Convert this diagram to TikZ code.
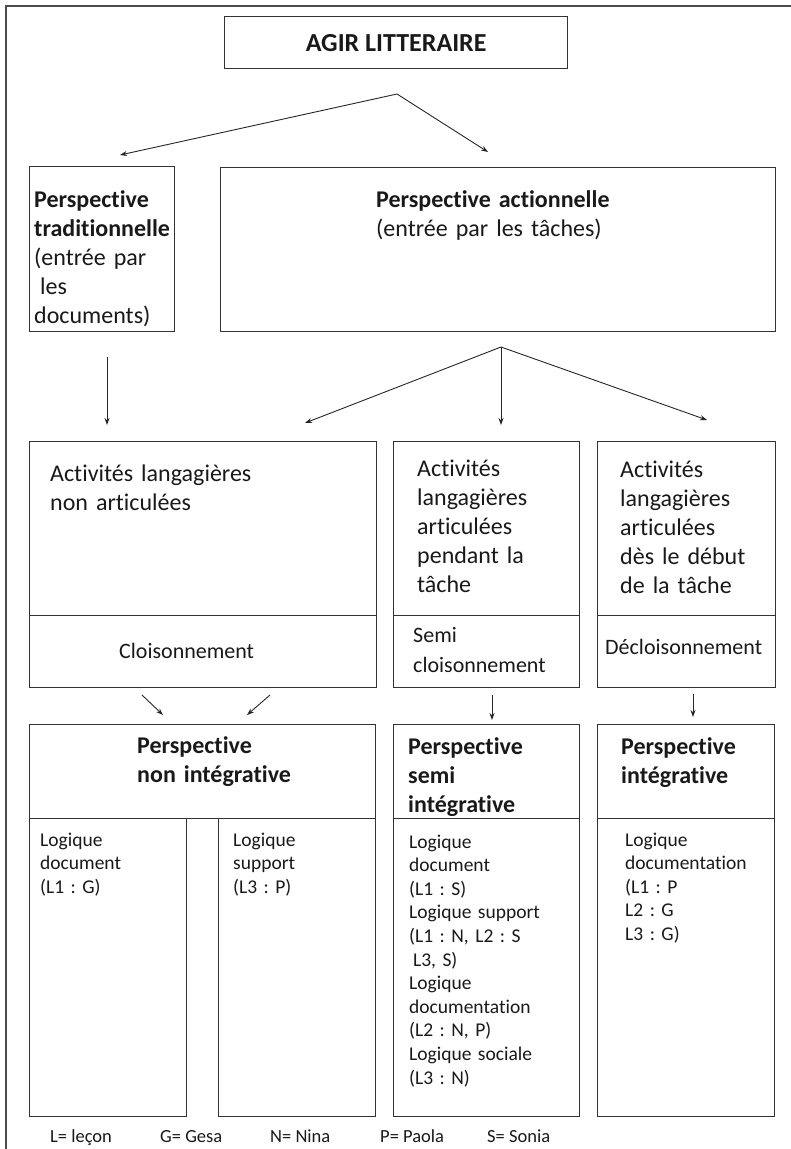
\documentclass[tikz,border=0pt]{standalone}
\usepackage{fontspec}
\setmainfont{Carlito}[Ligatures=CommonOff]
\usetikzlibrary{arrows.meta}
\frenchspacing

\tikzset{
  box/.style={draw=black!80, line width=1.3pt, anchor=north west, inner sep=0pt},
  title/.style={font=\bfseries\fontsize{26}{31}\selectfont, text=black!90},
  head/.style={anchor=base west, inner sep=0pt, align=left, text width=250pt,
    font=\bfseries\fontsize{24}{29}\selectfont, text=black!90},
  body/.style={anchor=base west, inner sep=0pt, align=left, text width=250pt,
    font=\fontsize{24}{29}\selectfont, text=black!90},
  part/.style={anchor=base west, inner sep=0pt, align=left, text width=250pt,
    font=\fontsize{22}{30}\selectfont, text=black!90},
  logic/.style={anchor=base west, inner sep=0pt, align=left, text width=200pt,
    font=\fontsize{19.5}{23.6}\selectfont, text=black!90},
  legend/.style={anchor=base west, inner sep=0pt, font=\fontsize{18.5}{22}\selectfont, text=black!90},
  link/.style={-{Stealth[length=7pt,width=5pt]}, draw=black!85, line width=0.9pt},
}

\begin{document}
\begin{tikzpicture}[x=1pt,y=-1pt]
% page frame
    \useasboundingbox (0,0) rectangle (791,1149);
    \draw[black!70, line width=1.4pt] (6,1149) -- (6,6) -- (791,6);

% title
    \node[box, title, minimum width=343pt, minimum height=52pt] (agir) at (224,16) {AGIR LITTERAIRE};

% the two perspectives
    \node[box, minimum width=145pt, minimum height=165pt] (trad) at (29,166) {};
    \node[box, minimum width=555pt, minimum height=164pt] (action) at (220,167) {};
    \node[head] (tradhead) at (34,207) {Perspective\\traditionnelle};
    \node[body] (tradtxt) at (34,265) {(entrée par\\\hspace*{0.25em}les\\documents)};
    \node[head] (actionhead) at (376,207) {Perspective actionnelle};
    \node[body] (actiontxt) at (376,236) {(entrée par les tâches)};

% arrows from the title
    \coordinate (forkone) at (397,94);
    \coordinate (totrad) at (120,155);
    \coordinate (toaction) at (488,152);
    \draw[link] (forkone) -- (totrad);
    \draw[link] (forkone) -- (toaction);

% arrows down to the activities
    \coordinate (tradout) at (107,357);
    \coordinate (tradin) at (107,425);
    \draw[link] (tradout) -- (tradin);
    \coordinate (forktwo) at (501,347);
    \coordinate (toacta) at (305,423);
    \coordinate (toactb) at (501,425);
    \coordinate (toactc) at (707,420);
    \draw[link] (forktwo) -- (toacta);
    \draw[link] (forktwo) -- (toactb);
    \draw[link] (forktwo) -- (toactc);

% activities langagieres
    \node[box, minimum width=347pt, minimum height=174pt] (acta) at (29,441) {};
    \node[box, minimum width=347pt, minimum height=72pt] (actabot) at (29,615) {};
    \node[box, minimum width=186pt, minimum height=174pt] (actb) at (393,441) {};
    \node[box, minimum width=186pt, minimum height=72pt] (actbbot) at (393,615) {};
    \node[box, minimum width=178pt, minimum height=174pt] (actc) at (597,441) {};
    \node[box, minimum width=178pt, minimum height=72pt] (actcbot) at (597,615) {};
    \node[body] (actatxt) at (50,481) {Activités langagières\\non articulées};
    \node[body] (actbtxt) at (417,476) {Activités\\langagières\\articulées\\pendant la\\tâche};
    \node[body] (actctxt) at (620,477) {Activités\\langagières\\articulées\\dès le début\\de la tâche};
    \node[part] (actapart) at (119,658) {Cloisonnement};
    \node[part] (actbpart) at (413,642) {Semi\\cloisonnement};
    \node[part] (actcpart) at (605,654) {Décloisonnement};

% small arrows down to the integration
    \coordinate (aone) at (142,695);
    \coordinate (bone) at (163,715);
    \coordinate (atwo) at (270,695);
    \coordinate (btwo) at (247,715);
    \coordinate (athree) at (492,695);
    \coordinate (bthree) at (492,720);
    \coordinate (afour) at (693,694);
    \coordinate (bfour) at (693,717);
    \draw[link] (aone) -- (bone);
    \draw[link] (atwo) -- (btwo);
    \draw[link] (athree) -- (bthree);
    \draw[link] (afour) -- (bfour);

% integration perspectives
    \node[box, minimum width=346pt, minimum height=94pt] (persa) at (29,724) {};
    \node[box, minimum width=157pt, minimum height=298pt] (persaleft) at (29,818) {};
    \node[box, minimum width=157pt, minimum height=298pt] (persaright) at (218,818) {};
    \node[box, minimum width=186pt, minimum height=94pt] (persb) at (393,724) {};
    \node[box, minimum width=186pt, minimum height=298pt] (persbbot) at (393,818) {};
    \node[box, minimum width=177pt, minimum height=94pt] (persc) at (597,724) {};
    \node[box, minimum width=177pt, minimum height=298pt] (perscbot) at (597,818) {};
    \node[head] (persahead) at (137,753) {Perspective\\non intégrative};
    \node[head] (persbhead) at (408,754) {Perspective\\semi\\intégrative};
    \node[head] (perschead) at (621,754) {Perspective\\intégrative};

% logiques
    \node[logic] (logicaleft) at (40,846) {Logique\\document\\(L1 : G)};
    \node[logic] (logicaright) at (233,846) {Logique\\support\\(L3 : P)};
    \node[logic] (logicb) at (409,848) {Logique\\document\\(L1 : S)\\Logique support\\(L1 : N, L2 : S\\\hspace*{0.2em}L3, S)\\Logique\\documentation\\(L2 : N, P)\\Logique sociale\\(L3 : N)};
    \node[logic] (logicc) at (625,846) {Logique\\documentation\\(L1 : P\\L2 : G\\L3 : G)};

% legend
    \node[legend] (legl) at (50,1142) {L= leçon};
    \node[legend] (legg) at (160,1142) {G= Gesa};
    \node[legend] (legn) at (270,1142) {N= Nina};
    \node[legend] (legp) at (380,1142) {P= Paola};
    \node[legend] (legs) at (487,1142) {S= Sonia};
\end{tikzpicture}
\end{document}
